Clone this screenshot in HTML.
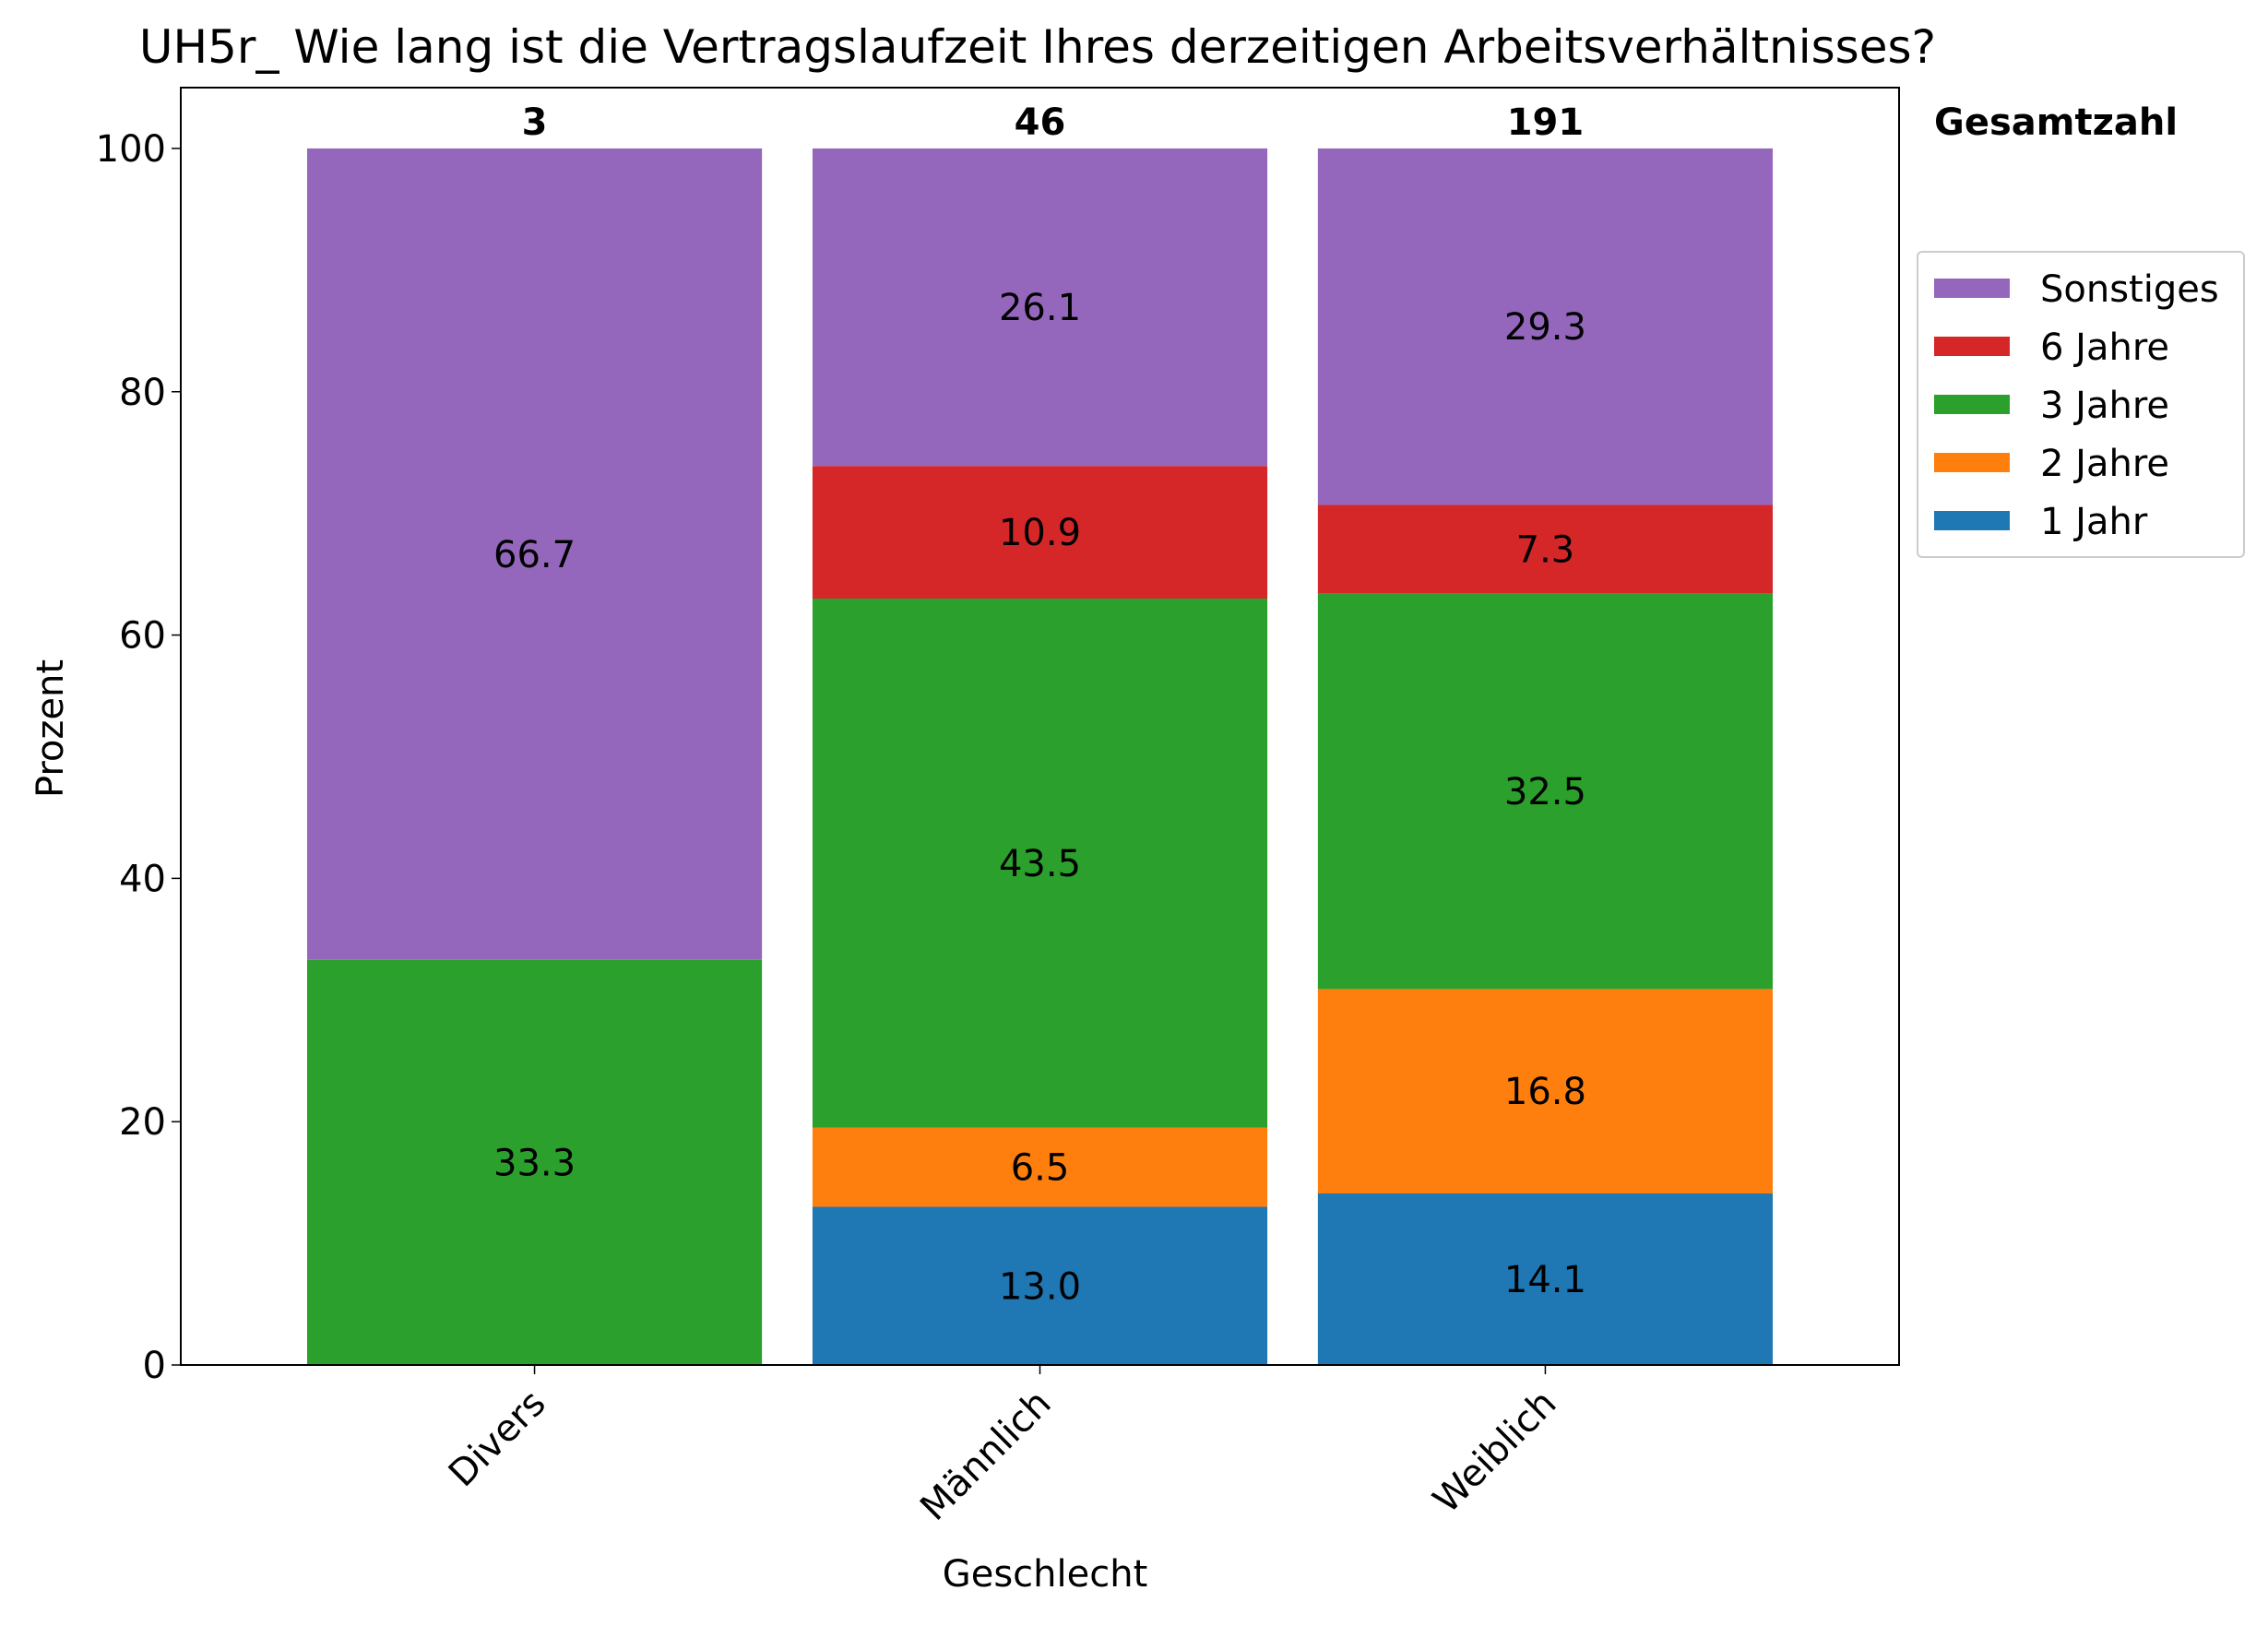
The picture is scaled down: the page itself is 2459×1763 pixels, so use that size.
<!DOCTYPE html>
<html><head><meta charset="utf-8"><style>
body{margin:0;background:#fff}
svg{font-family:"DejaVu Sans","Liberation Sans",sans-serif}
</style></head><body>
<svg id="c" width="2459" height="1758" xmlns="http://www.w3.org/2000/svg"></svg>
<script>
const categories=["Divers","Männlich","Weiblich"];
const totals=[3,46,191];
const seriesNames=["1 Jahr","2 Jahre","3 Jahre","6 Jahre","Sonstiges"];
const s1Jahr=[0,13.0,14.1];
const s2Jahre=[0,6.5,16.8];
const s3Jahre=[33.3,43.5,32.5];
const s6Jahre=[0,10.9,7.3];
const sSonstiges=[66.7,26.1,29.3];
const yTicks=[0,20,40,60,80,100];
const series=[s1Jahr,s2Jahre,s3Jahre,s6Jahre,sSonstiges];
const colors=["#1f77b4","#ff7f0e","#2ca02c","#d62728","#9467bd"];
const L=196,R=2059,T=95,B=1480;
const xs=i=>L+(i+0.7)/3.4*(R-L);
const ys=v=>B-v/105*(B-T);
const bw=0.9/3.4*(R-L);
const svg=document.getElementById('c');
function el(t,a,txt){const e=document.createElementNS("http://www.w3.org/2000/svg",t);for(const k in a)e.setAttribute(k,a[k]);if(txt!==undefined)e.textContent=txt;svg.appendChild(e);return e;}
categories.forEach((c,i)=>{
  let base=0;
  series.forEach((s,j)=>{
    const v=s[i];
    if(v>0){
      const r=el('rect',{x:xs(i)-bw/2,y:ys(base+v),width:bw,height:ys(base)-ys(base+v),fill:colors[j]});
      
      
      const t=el('text',{x:xs(i),y:ys(base+v/2)+14,'text-anchor':'middle','font-size':'40'},v.toFixed(1));
      
      
    }
    base+=v;
  });
  const tt=el('text',{x:xs(i),y:146,'text-anchor':'middle','font-size':'40','font-weight':'bold'},String(totals[i]));
  
  
  el('line',{x1:xs(i),x2:xs(i),y1:B,y2:B+10,stroke:'#000','stroke-width':1.5});
  const xl=el('text',{transform:`translate(${xs(i)+14},${B+44}) rotate(-45)`,'text-anchor':'end','font-size':'40'},c);
  
  
});
yTicks.forEach(v=>{
  el('line',{x1:L-10,x2:L,y1:ys(v),y2:ys(v),stroke:'#000','stroke-width':1.5});
  const t=el('text',{x:L-16,y:ys(v)+14,'text-anchor':'end','font-size':'40'},String(v));
  
  
});
const fr=el('rect',{x:L,y:T,width:R-L,height:B-T,fill:'none',stroke:'#000','stroke-width':2});


</script>
<svg style="position:absolute;left:0;top:0" width="2459" height="1758" xmlns="http://www.w3.org/2000/svg" font-family="DejaVu Sans, Liberation Sans, sans-serif">
<text x="1125" y="68" text-anchor="middle" font-size="50">UH5r_ Wie lang ist die Vertragslaufzeit Ihres derzeitigen Arbeitsverhältnisses?</text>
<text transform="translate(68,790) rotate(-90)" text-anchor="middle" font-size="40">Prozent</text>
<text x="1133" y="1720" text-anchor="middle" font-size="40">Geschlecht</text>
<text x="2097" y="146" font-size="40" font-weight="bold">Gesamtzahl</text>
<g>
<rect x="2079" y="273" width="354" height="331" rx="5" fill="#fff" stroke="#ccc" stroke-width="2"/>
<rect x="2097" y="302" width="82" height="21" fill="#9467bd"/><text x="2212" y="327" font-size="40">Sonstiges</text>
<rect x="2097" y="365" width="82" height="21" fill="#d62728"/><text x="2212" y="390" font-size="40">6 Jahre</text>
<rect x="2097" y="428" width="82" height="21" fill="#2ca02c"/><text x="2212" y="453" font-size="40">3 Jahre</text>
<rect x="2097" y="491" width="82" height="21" fill="#ff7f0e"/><text x="2212" y="516" font-size="40">2 Jahre</text>
<rect x="2097" y="554" width="82" height="21" fill="#1f77b4"/><text x="2212" y="579" font-size="40">1 Jahr</text>
</g>
</svg>
</body></html>
